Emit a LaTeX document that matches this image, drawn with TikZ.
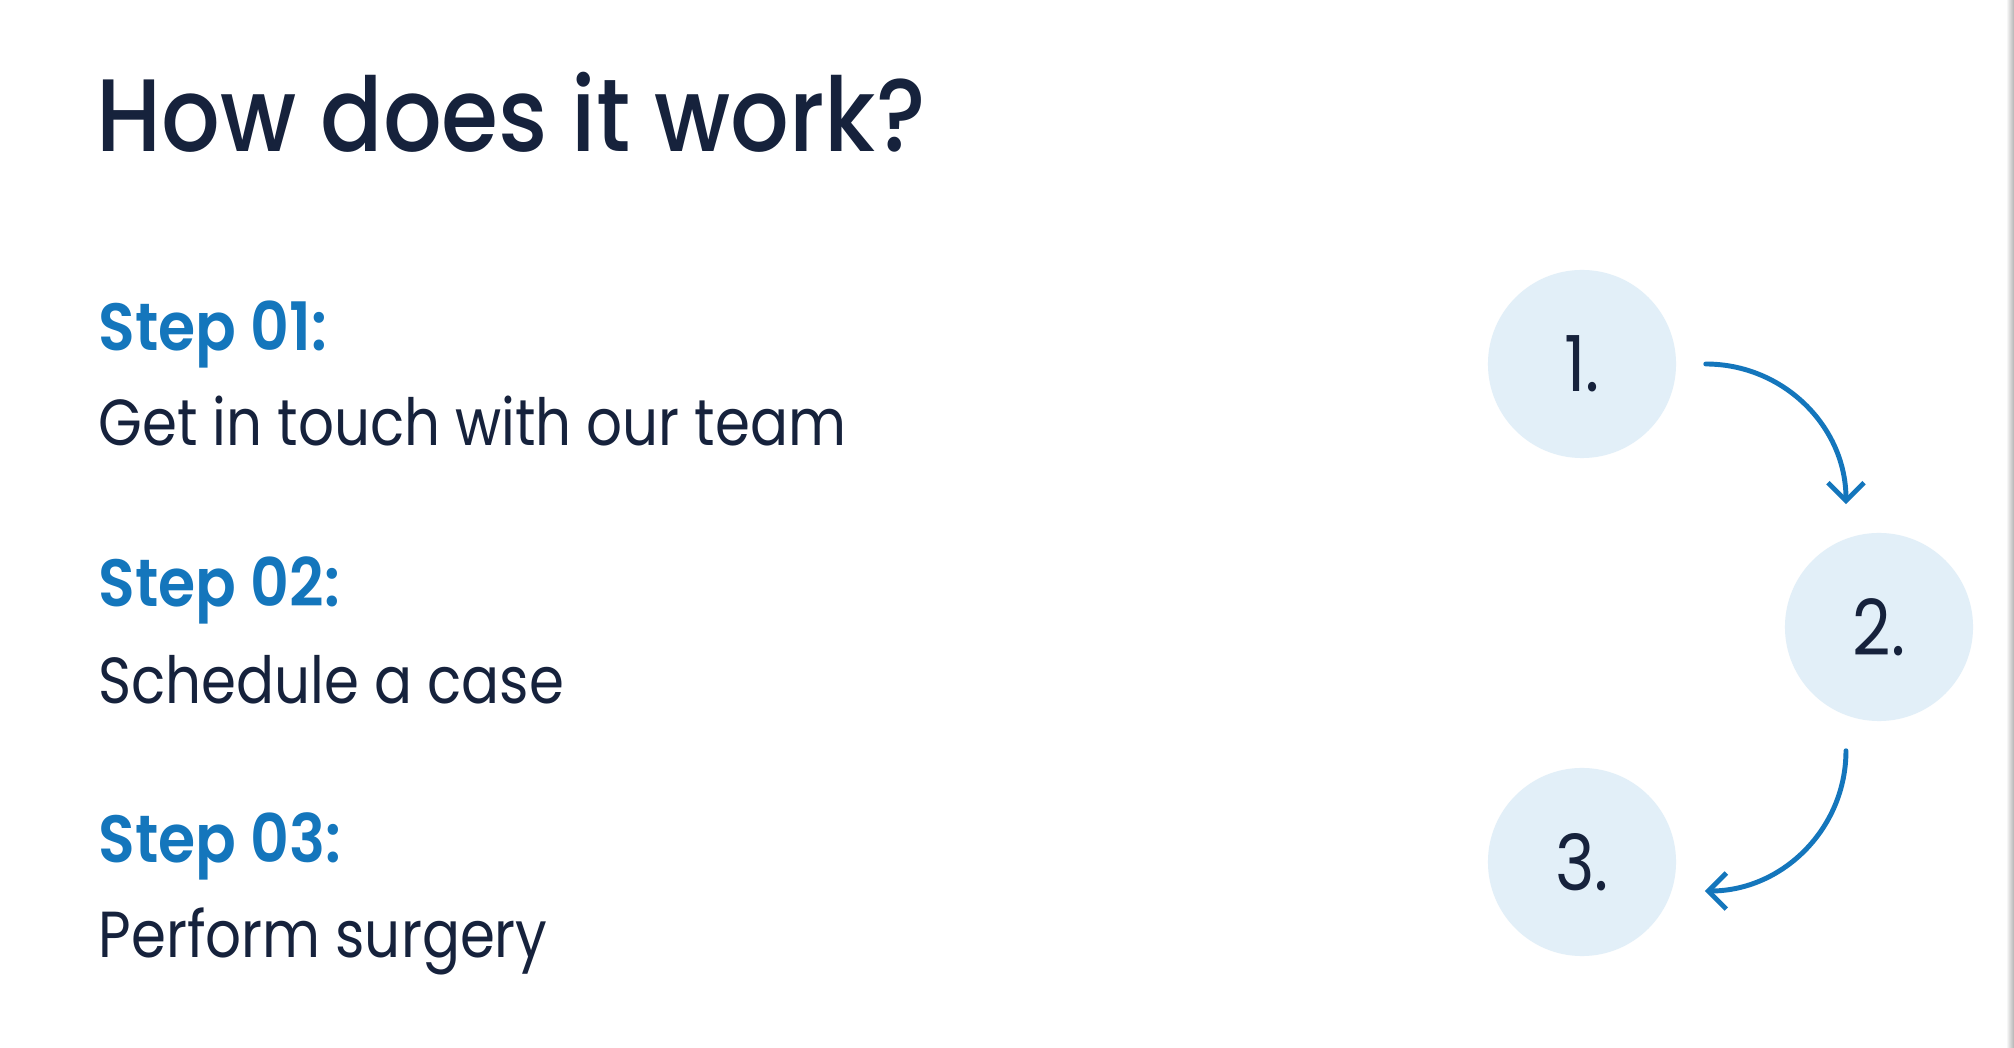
\documentclass[tikz,border=0pt]{standalone}
\usepackage{fontspec}
\setmainfont{Poppins}
\newfontfamily\headfont{Poppins Medium}[FakeStretch=0.895]
\newfontfamily\labelfont{Poppins SemiBold}[FakeStretch=0.9]
\newfontfamily\bodyfont{Poppins}[FakeStretch=0.865]
\usetikzlibrary{arrows.meta}
\tikzset{>={Straight Barb[length=1.8mm,width=3.6mm]}}
\definecolor{Color1}{RGB}{22,34,60}
\definecolor{Color2}{RGB}{20,118,188}
\definecolor{Color3}{RGB}{226,239,248}
\tikzset{
	steplabel/.style={anchor=base west,inner sep=0pt,text=Color2,font=\labelfont\fontsize{19}{19}\selectfont},
	stepbody/.style={anchor=base west,inner sep=0pt,text=Color1,font=\bodyfont\fontsize{18.5}{18.5}\selectfont},
	bubble/.style={circle,fill=Color3,minimum size=1.88cm,inner sep=0pt,text=Color1,font=\bodyfont\fontsize{22}{22}\selectfont},
	flow/.style={->,draw=Color2,line width=1.4pt,line cap=round}
}

\begin{document}
\begin{tikzpicture}[x=0.01cm,y=0.01cm]
		% page
		\useasboundingbox (0,0) rectangle (2014,1048);
		\fill[white] (0,0) rectangle (2014,1048);
		\shade[left color=white,right color=black!30] (2006,0) rectangle (2014,1048);

		% title
		\node[anchor=base west,inner sep=0pt,text=Color1,font=\headfont\fontsize{29.3}{29.3}\selectfont] (title) at (96,896) {How does it work?};

		% step 01
		\node[steplabel] (s1) at (98,697) {Step 01:};
		\node[stepbody]  (t1) at (98,602) {Get in touch with our team};

		% step 02
		\node[steplabel] (s2) at (98,441) {Step 02:};
		\node[stepbody]  (t2) at (98,344) {Schedule a case};

		% step 03
		\node[steplabel] (s3) at (98,185) {Step 03:};
		\node[stepbody]  (t3) at (98,90) {Perform surgery};

		% circles
		\node[bubble] (c1) at (1582,684) {1.};
		\node[bubble] (c2) at (1879,421) {2.};
		\node[bubble] (c3) at (1582,186) {3.};

		% arrows
		\draw[flow] ([xshift=0.29cm]c1.east) to[out=0,in=90] ([xshift=-0.33cm,yshift=0.28cm]c2.north);
		\draw[flow] ([xshift=-0.33cm,yshift=-0.29cm]c2.south) to[out=-90,in=0] ([xshift=0.28cm,yshift=-0.29cm]c3.east);

	\end{tikzpicture}
\end{document}
